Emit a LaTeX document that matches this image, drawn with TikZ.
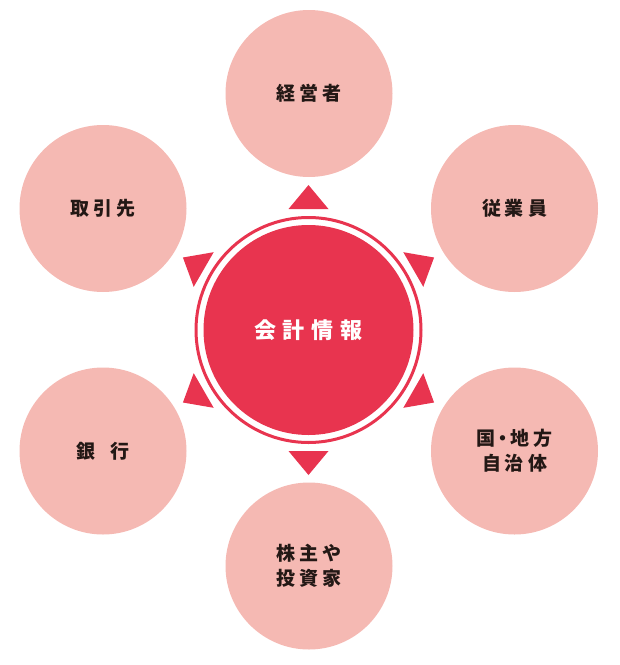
\documentclass[tikz,border=0pt]{standalone}
\usepackage{fontspec}
\usetikzlibrary{calc}
\newfontfamily\jp{Noto Sans CJK JP}
\definecolor{pinkc}{HTML}{F5B9B3}
\definecolor{redc}{HTML}{E8344F}
\definecolor{txt}{HTML}{231815}
\newcommand\tk{\kern4pt}
\newcommand\tkc{\kern7pt}
\begin{document}
\begin{tikzpicture}[x=1pt,y=-1pt,
  outer/.style={circle,fill=pinkc,minimum size=167pt,inner sep=0pt,
    font=\jp\bfseries\fontsize{19}{25}\selectfont,text=txt,align=center},
  tri/.style={fill=redc}]
\useasboundingbox (0,0) rectangle (620,665);
\coordinate (c) at (308.5,330);
% center ring and disk
\draw[redc,line width=3pt] (c) circle[radius=112.5];
\node[circle,fill=redc,minimum size=210pt,inner sep=0pt,text=white,
  font=\jp\bfseries\fontsize{22}{26}\selectfont] (center) at (c) {会\tkc 計\tkc 情\tkc 報};
% triangles
\foreach \a in {90,30,-30,-90,210,150}{
  \fill[tri] ($(c)+(\a:145)$) -- ($(c)+(\a:121)+(\a+90:20)$) -- ($(c)+(\a:121)+(\a-90:20)$) -- cycle;
}
% outer circles
\node[outer] (top) at (309,93.5) {経\tk 営\tk 者};
\node[outer] (ur) at (514.5,208.5) {従\tk 業\tk 員};
\node[outer] (lr) at (514.5,451) {国\kern-2pt・\kern-2pt 地\tk 方\\自\tk 治\tk 体};
\node[outer] (bot) at (309,566) {株\tk 主\tk や\\投\tk 資\tk 家};
\node[outer] (ll) at (103,451) {銀\kern15pt 行};
\node[outer] (ul) at (103,208.5) {取\tk 引\tk 先};
\end{tikzpicture}
\end{document}
